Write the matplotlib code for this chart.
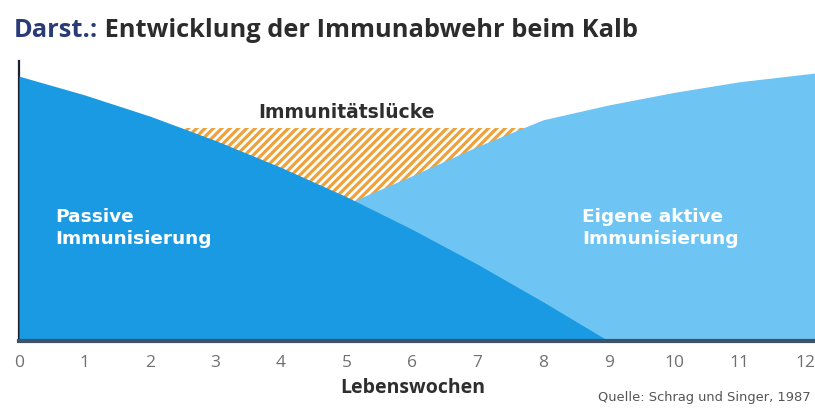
import matplotlib
matplotlib.use("Agg")
import matplotlib.pyplot as plt

# Lebenswochen (x) und relative Abwehrstärke (0..100)
weeks = [0, 1, 2, 3, 4, 5, 6, 7, 8, 9, 10, 11, 12, 12.15]
passive = [94.6, 87.9, 80.3, 71.6, 62.0, 51.5, 39.9, 27.4, 14.0, 0, 0, 0, 0, 0]
active = [2, 10, 19, 29, 39, 49.0, 59.0, 69.5, 79.0, 84.3, 88.8, 92.6, 95.3, 95.7]
gap_top = 76.1
tick_labels = [str(i) for i in range(13)]

title_a = "Darst.:"
title_b = " Entwicklung der Immunabwehr beim Kalb"
xlabel = "Lebenswochen"
source = "Quelle: Schrag und Singer, 1987"

c_dark = "#1a9ae2"
c_light = "#6ec5f4"
c_hatch = "#eea23c"

plt.rcParams["hatch.linewidth"] = 2.3
plt.rcParams["font.family"] = ["Open Sans", "DejaVu Sans"]

fig = plt.figure(figsize=(8.15, 4.08), dpi=100)
ax = fig.add_axes([19 / 815, 1 - 341 / 408, 1 - 19 / 815, 280 / 408])

# Immunitätslücke: schraffiertes Band, wird von den Flächen überdeckt
ax.fill_between([0, 12.15], 0, gap_top, facecolor="white", edgecolor=c_hatch,
                hatch="////", linewidth=0, zorder=1)
ax.fill_between(weeks, 0, active, color=c_light, linewidth=0, zorder=2)
ax.fill_between(weeks, 0, passive, color=c_dark, linewidth=0, zorder=3)

ax.set_xlim(0, 12.15)
ax.set_ylim(0, 100)
ax.set_xticks(range(13))
ax.set_xticklabels(tick_labels, color="#707070", fontsize=12.5)
ax.tick_params(axis="x", length=0, pad=10)
ax.set_yticks([])
for s in ["top", "right"]:
    ax.spines[s].set_visible(False)
ax.spines["left"].set_linewidth(1.6)
ax.spines["left"].set_color("#1c2030")
ax.spines["bottom"].set_linewidth(3)
ax.spines["bottom"].set_color("#3e5368")
ax.spines["bottom"].set_zorder(5)

inner = dict(fontweight="bold", zorder=6, family=["DejaVu Sans"])
ax.text(5.0, 81.5, "Immunitätslücke", ha="center", va="center",
        color="#2e2e2e", fontsize=13.5, **inner)
ax.text(0.55, 40.4, "Passive\nImmunisierung", ha="left", va="center",
        color="white", fontsize=13.3, linespacing=1.3, **inner)
ax.text(8.6, 40.4, "Eigene aktive\nImmunisierung", ha="left", va="center",
        color="white", fontsize=13.3, linespacing=1.3, **inner)

t1 = fig.text(14 / 815, 1 - 43 / 408, title_a, ha="left", va="bottom",
              color="#2a3c78", fontsize=18.3, fontweight="bold")
ax.annotate(title_b, xy=(1, 0), xycoords=t1, ha="left", va="bottom",
            color="#2c2c2c", fontsize=18.3, fontweight="bold",
            annotation_clip=False)
fig.text(413 / 815, 1 - 388 / 408, xlabel, ha="center", va="center",
         color="#2e2e2e", fontsize=14, fontweight="bold")
fig.text(811 / 815, 1 - 397 / 408, source, ha="right", va="center",
         color="#555555", fontsize=9.4, family=["DejaVu Sans"])

fig.savefig("out.png", dpi=100)
